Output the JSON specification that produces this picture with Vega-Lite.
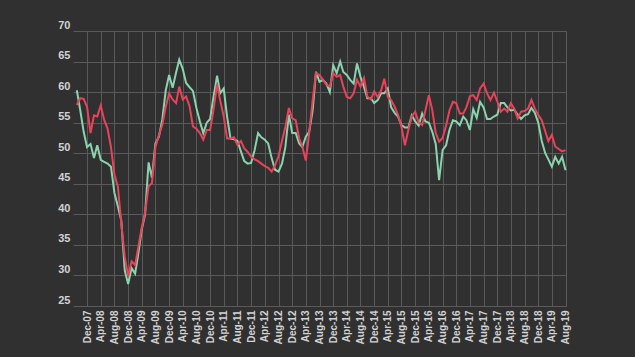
{
  "$schema": "https://vega.github.io/schema/vega-lite/v6.json",
  "width": 493,
  "height": 275,
  "autosize": "none",
  "padding": {"left": 73, "top": 31, "right": 69, "bottom": 51},
  "background": "#303030",
  "config": {
    "view": {"stroke": null},
    "axis": {
      "labelFont": "Liberation Sans",
      "labelFontWeight": "bold",
      "labelColor": "#d2d2d2",
      "gridColor": "#5a5a5a",
      "gridWidth": 1,
      "gridOpacity": 1,
      "domain": false,
      "ticks": false,
      "title": null
    }
  },
  "data": {
    "values": [
      {"d":"2007-09-01","g":60.3,"r":57.9},
      {"d":"2007-10-01","g":57.1,"r":59.0},
      {"d":"2007-11-01","g":53.5,"r":58.9},
      {"d":"2007-12-01","g":51.0,"r":57.6},
      {"d":"2008-01-01","g":51.5,"r":53.3},
      {"d":"2008-02-01","g":49.2,"r":56.2},
      {"d":"2008-03-01","g":51.3,"r":56.0},
      {"d":"2008-04-01","g":48.9,"r":57.8},
      {"d":"2008-05-01","g":48.6,"r":55.5},
      {"d":"2008-06-01","g":48.3,"r":54.0},
      {"d":"2008-07-01","g":47.8,"r":51.0},
      {"d":"2008-08-01","g":43.5,"r":46.5},
      {"d":"2008-09-01","g":41.3,"r":44.5},
      {"d":"2008-10-01","g":39.0,"r":38.5},
      {"d":"2008-11-01","g":30.8,"r":33.0},
      {"d":"2008-12-01","g":28.6,"r":29.9},
      {"d":"2009-01-01","g":31.2,"r":32.3},
      {"d":"2009-02-01","g":30.3,"r":31.7},
      {"d":"2009-03-01","g":33.5,"r":34.6},
      {"d":"2009-04-01","g":37.5,"r":37.8},
      {"d":"2009-05-01","g":40.0,"r":40.3},
      {"d":"2009-06-01","g":48.5,"r":44.6},
      {"d":"2009-07-01","g":46.0,"r":45.1},
      {"d":"2009-08-01","g":51.6,"r":51.0},
      {"d":"2009-09-01","g":52.7,"r":53.0},
      {"d":"2009-10-01","g":55.5,"r":54.6},
      {"d":"2009-11-01","g":60.3,"r":57.6},
      {"d":"2009-12-01","g":62.8,"r":59.8},
      {"d":"2010-01-01","g":60.7,"r":58.8},
      {"d":"2010-02-01","g":63.2,"r":58.2},
      {"d":"2010-03-01","g":65.3,"r":60.9},
      {"d":"2010-04-01","g":63.8,"r":58.8},
      {"d":"2010-05-01","g":61.5,"r":59.3},
      {"d":"2010-06-01","g":60.8,"r":57.7},
      {"d":"2010-07-01","g":60.2,"r":54.4},
      {"d":"2010-08-01","g":57.4,"r":54.0},
      {"d":"2010-09-01","g":55.2,"r":53.3},
      {"d":"2010-10-01","g":53.3,"r":52.2},
      {"d":"2010-11-01","g":55.0,"r":53.8},
      {"d":"2010-12-01","g":55.6,"r":53.8},
      {"d":"2011-01-01","g":59.3,"r":57.2},
      {"d":"2011-02-01","g":62.7,"r":61.3},
      {"d":"2011-03-01","g":59.8,"r":58.6},
      {"d":"2011-04-01","g":60.6,"r":56.0},
      {"d":"2011-05-01","g":56.0,"r":52.4},
      {"d":"2011-06-01","g":52.4,"r":52.4},
      {"d":"2011-07-01","g":52.3,"r":52.6},
      {"d":"2011-08-01","g":52.0,"r":51.4},
      {"d":"2011-09-01","g":50.3,"r":52.0},
      {"d":"2011-10-01","g":48.7,"r":50.8},
      {"d":"2011-11-01","g":48.3,"r":50.2},
      {"d":"2011-12-01","g":48.4,"r":49.4},
      {"d":"2012-01-01","g":50.5,"r":49.0},
      {"d":"2012-02-01","g":53.3,"r":48.7},
      {"d":"2012-03-01","g":52.6,"r":48.3},
      {"d":"2012-04-01","g":52.2,"r":47.9},
      {"d":"2012-05-01","g":51.6,"r":47.6},
      {"d":"2012-06-01","g":49.2,"r":47.0},
      {"d":"2012-07-01","g":47.3,"r":48.0},
      {"d":"2012-08-01","g":47.0,"r":49.5},
      {"d":"2012-09-01","g":48.3,"r":52.0},
      {"d":"2012-10-01","g":51.0,"r":54.3},
      {"d":"2012-11-01","g":56.3,"r":57.4},
      {"d":"2012-12-01","g":53.3,"r":55.7},
      {"d":"2013-01-01","g":53.3,"r":55.4},
      {"d":"2013-02-01","g":51.6,"r":52.4},
      {"d":"2013-03-01","g":51.0,"r":51.1},
      {"d":"2013-04-01","g":52.7,"r":48.8},
      {"d":"2013-05-01","g":53.5,"r":53.3},
      {"d":"2013-06-01","g":57.0,"r":58.7},
      {"d":"2013-07-01","g":63.3,"r":63.1},
      {"d":"2013-08-01","g":61.7,"r":62.8},
      {"d":"2013-09-01","g":62.0,"r":62.0},
      {"d":"2013-10-01","g":61.4,"r":61.2},
      {"d":"2013-11-01","g":60.0,"r":60.9},
      {"d":"2013-12-01","g":64.4,"r":63.1},
      {"d":"2014-01-01","g":63.1,"r":62.5},
      {"d":"2014-02-01","g":65.0,"r":62.8},
      {"d":"2014-03-01","g":63.3,"r":60.9},
      {"d":"2014-04-01","g":62.8,"r":59.2},
      {"d":"2014-05-01","g":62.0,"r":59.0},
      {"d":"2014-06-01","g":61.4,"r":59.8},
      {"d":"2014-07-01","g":64.7,"r":62.0},
      {"d":"2014-08-01","g":62.5,"r":60.9},
      {"d":"2014-09-01","g":60.9,"r":62.3},
      {"d":"2014-10-01","g":59.0,"r":59.3},
      {"d":"2014-11-01","g":59.0,"r":58.8},
      {"d":"2014-12-01","g":58.2,"r":60.1},
      {"d":"2015-01-01","g":58.7,"r":59.2},
      {"d":"2015-02-01","g":59.8,"r":60.3},
      {"d":"2015-03-01","g":59.8,"r":62.2},
      {"d":"2015-04-01","g":60.6,"r":59.2},
      {"d":"2015-05-01","g":57.5,"r":58.7},
      {"d":"2015-06-01","g":56.6,"r":57.6},
      {"d":"2015-07-01","g":56.0,"r":56.3},
      {"d":"2015-08-01","g":54.6,"r":54.3},
      {"d":"2015-09-01","g":54.2,"r":51.3},
      {"d":"2015-10-01","g":54.2,"r":53.8},
      {"d":"2015-11-01","g":56.2,"r":56.0},
      {"d":"2015-12-01","g":55.2,"r":56.8},
      {"d":"2016-01-01","g":54.5,"r":55.0},
      {"d":"2016-02-01","g":56.5,"r":54.6},
      {"d":"2016-03-01","g":55.2,"r":57.0},
      {"d":"2016-04-01","g":55.0,"r":59.5},
      {"d":"2016-05-01","g":53.5,"r":57.1},
      {"d":"2016-06-01","g":51.5,"r":53.3},
      {"d":"2016-07-01","g":45.6,"r":51.9},
      {"d":"2016-08-01","g":50.5,"r":52.5},
      {"d":"2016-09-01","g":51.3,"r":54.5},
      {"d":"2016-10-01","g":53.8,"r":57.0},
      {"d":"2016-11-01","g":55.4,"r":58.4},
      {"d":"2016-12-01","g":55.2,"r":58.2},
      {"d":"2017-01-01","g":54.6,"r":56.5},
      {"d":"2017-02-01","g":56.0,"r":56.5},
      {"d":"2017-03-01","g":55.4,"r":57.5},
      {"d":"2017-04-01","g":53.8,"r":59.3},
      {"d":"2017-05-01","g":57.2,"r":59.5},
      {"d":"2017-06-01","g":55.8,"r":58.7},
      {"d":"2017-07-01","g":58.4,"r":60.6},
      {"d":"2017-08-01","g":57.5,"r":61.4},
      {"d":"2017-09-01","g":55.6,"r":59.8},
      {"d":"2017-10-01","g":55.6,"r":58.7},
      {"d":"2017-11-01","g":56.0,"r":59.9},
      {"d":"2017-12-01","g":56.3,"r":58.5},
      {"d":"2018-01-01","g":58.2,"r":56.8},
      {"d":"2018-02-01","g":58.2,"r":57.3},
      {"d":"2018-03-01","g":57.5,"r":56.8},
      {"d":"2018-04-01","g":57.0,"r":58.2},
      {"d":"2018-05-01","g":57.1,"r":57.3},
      {"d":"2018-06-01","g":56.3,"r":55.7},
      {"d":"2018-07-01","g":55.6,"r":56.8},
      {"d":"2018-08-01","g":56.2,"r":56.9},
      {"d":"2018-09-01","g":56.4,"r":57.3},
      {"d":"2018-10-01","g":57.4,"r":58.7},
      {"d":"2018-11-01","g":56.6,"r":57.3},
      {"d":"2018-12-01","g":55.0,"r":56.3},
      {"d":"2019-01-01","g":52.0,"r":55.4},
      {"d":"2019-02-01","g":50.0,"r":53.6},
      {"d":"2019-03-01","g":49.0,"r":52.0},
      {"d":"2019-04-01","g":47.8,"r":53.0},
      {"d":"2019-05-01","g":49.4,"r":51.1},
      {"d":"2019-06-01","g":48.3,"r":50.7},
      {"d":"2019-07-01","g":49.4,"r":50.3},
      {"d":"2019-08-01","g":47.2,"r":50.5}
    ]
  },
  "transform": [{"fold": ["g", "r"], "as": ["series", "value"]}],
  "mark": {"type": "line", "strokeWidth": 2, "interpolate": "linear"},
  "encoding": {
    "x": {
      "field": "d",
      "type": "temporal",
      "scale": {
        "type": "utc",
        "domain": [
          {"year": 2007, "month": 7, "date": 29, "utc": true},
          {"year": 2019, "month": 8, "date": 5, "utc": true}
        ]
      },
      "axis": {
        "labelExpr": "utcFormat(datum.value, '%b-%y')",
        "labelAngle": -90,
        "labelFontSize": 10,
        "labelPadding": 4,
        "labelOverlap": false,
        "labelFlush": false,
        "values": [
          {"year":2007,"month":12,"date":1,"utc":true},
          {"year":2008,"month":4,"date":1,"utc":true},
          {"year":2008,"month":8,"date":1,"utc":true},
          {"year":2008,"month":12,"date":1,"utc":true},
          {"year":2009,"month":4,"date":1,"utc":true},
          {"year":2009,"month":8,"date":1,"utc":true},
          {"year":2009,"month":12,"date":1,"utc":true},
          {"year":2010,"month":4,"date":1,"utc":true},
          {"year":2010,"month":8,"date":1,"utc":true},
          {"year":2010,"month":12,"date":1,"utc":true},
          {"year":2011,"month":4,"date":1,"utc":true},
          {"year":2011,"month":8,"date":1,"utc":true},
          {"year":2011,"month":12,"date":1,"utc":true},
          {"year":2012,"month":4,"date":1,"utc":true},
          {"year":2012,"month":8,"date":1,"utc":true},
          {"year":2012,"month":12,"date":1,"utc":true},
          {"year":2013,"month":4,"date":1,"utc":true},
          {"year":2013,"month":8,"date":1,"utc":true},
          {"year":2013,"month":12,"date":1,"utc":true},
          {"year":2014,"month":4,"date":1,"utc":true},
          {"year":2014,"month":8,"date":1,"utc":true},
          {"year":2014,"month":12,"date":1,"utc":true},
          {"year":2015,"month":4,"date":1,"utc":true},
          {"year":2015,"month":8,"date":1,"utc":true},
          {"year":2015,"month":12,"date":1,"utc":true},
          {"year":2016,"month":4,"date":1,"utc":true},
          {"year":2016,"month":8,"date":1,"utc":true},
          {"year":2016,"month":12,"date":1,"utc":true},
          {"year":2017,"month":4,"date":1,"utc":true},
          {"year":2017,"month":8,"date":1,"utc":true},
          {"year":2017,"month":12,"date":1,"utc":true},
          {"year":2018,"month":4,"date":1,"utc":true},
          {"year":2018,"month":8,"date":1,"utc":true},
          {"year":2018,"month":12,"date":1,"utc":true},
          {"year":2019,"month":4,"date":1,"utc":true},
          {"year":2019,"month":8,"date":1,"utc":true}
        ]
      }
    },
    "y": {
      "field": "value",
      "type": "quantitative",
      "scale": {"domain": [25, 70], "nice": false, "zero": false},
      "axis": {
        "values": [25, 30, 35, 40, 45, 50, 55, 60, 65, 70],
        "labelFontSize": 11,
        "labelPadding": 3,
        "labelBaseline": "bottom",
        "labelOffset": -1
      }
    },
    "color": {
      "field": "series",
      "type": "nominal",
      "scale": {"domain": ["g", "r"], "range": ["#8ad3ae", "#e8435a"]},
      "legend": null
    }
  }
}
